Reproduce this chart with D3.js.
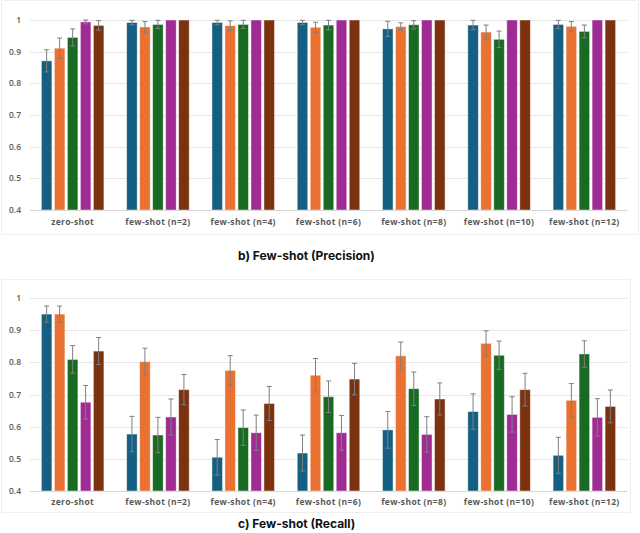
<!DOCTYPE html>
<html>
<head>
<meta charset="utf-8">
<script src="https://cdn.jsdelivr.net/npm/d3@7"></script>
<style>
  body { margin: 0; background: #fff; }
  svg { display: block; }
</style>
</head>
<body>
<svg id="chart"></svg>
<script>
// categories (x groups)
const categories = ["zero-shot", "few-shot (n=2)", "few-shot (n=4)", "few-shot (n=6)",
  "few-shot (n=8)", "few-shot (n=10)", "few-shot (n=12)"];
const seriesNames = ["s1", "s2", "s3", "s4", "s5"];
const seriesColors = ["#156082", "#e97132", "#196b24", "#a02b93", "#7a320f"];
const yTicks = [0.4, 0.5, 0.6, 0.7, 0.8, 0.9, 1];

// precision: one array per series, one value per category
const precS1 = [0.871, 0.992, 0.992, 0.992, 0.972, 0.984, 0.986];
const precS2 = [0.911, 0.978, 0.982, 0.977, 0.979, 0.962, 0.980];
const precS3 = [0.945, 0.986, 0.986, 0.984, 0.985, 0.939, 0.964];
const precS4 = [0.994, 1, 1, 1, 1, 1, 1];
const precS5 = [0.983, 1, 1, 1, 1, 1, 1];
const precErrS1 = [0.035, 0.007, 0.007, 0.007, 0.024, 0.015, 0.013];
const precErrS2 = [0.032, 0.017, 0.015, 0.016, 0.012, 0.022, 0.015];
const precErrS3 = [0.027, 0.013, 0.013, 0.015, 0.013, 0.026, 0.020];
const precErrS4 = [0.006, 0, 0, 0, 0, 0, 0];
const precErrS5 = [0.015, 0, 0, 0, 0, 0, 0];

// recall
const recS1 = [0.950, 0.577, 0.505, 0.518, 0.590, 0.647, 0.511];
const recS2 = [0.950, 0.802, 0.775, 0.760, 0.820, 0.859, 0.682];
const recS3 = [0.809, 0.574, 0.597, 0.693, 0.718, 0.822, 0.826];
const recS4 = [0.676, 0.630, 0.581, 0.581, 0.576, 0.638, 0.629];
const recS5 = [0.835, 0.715, 0.672, 0.748, 0.686, 0.715, 0.663];
const recErrS1 = [0.025, 0.055, 0.055, 0.056, 0.057, 0.055, 0.056];
const recErrS2 = [0.025, 0.042, 0.046, 0.052, 0.043, 0.039, 0.052];
const recErrS3 = [0.043, 0.055, 0.055, 0.049, 0.052, 0.044, 0.041];
const recErrS4 = [0.052, 0.056, 0.055, 0.054, 0.055, 0.055, 0.058];
const recErrS5 = [0.042, 0.047, 0.053, 0.049, 0.050, 0.051, 0.051];

const width = 640, height = 533;
const svg = d3.select("#chart").attr("width", width).attr("height", height);

function drawPanel(opts) {
  const { box, top, bottom, labelY, caption, captionY, values, errors } = opts;

  // faint panel frame
  svg.append("rect")
    .attr("x", box[0] + 0.5).attr("y", box[1] + 0.5)
    .attr("width", box[2] - box[0]).attr("height", box[3] - box[1])
    .attr("fill", "none").attr("stroke", "#efefef");

  const y = d3.scaleLinear().domain([0.4, 1]).range([bottom, top]);
  const x0 = d3.scaleBand().domain(categories).range([30, 627]);
  const x1 = d3.scaleBand().domain(seriesNames).range([0, 65])
    .paddingInner(0.19).paddingOuter(0.095);

  const g = svg.append("g");

  // gridlines
  g.selectAll(".grid").data(yTicks).enter().append("line")
    .attr("x1", 30).attr("x2", 627)
    .attr("y1", d => Math.round(y(d)) + 0.5).attr("y2", d => Math.round(y(d)) + 0.5)
    .attr("stroke", d => d === 0.4 ? "#d4d4d4" : "#e6e6e6").attr("stroke-width", 1);

  // y tick labels
  g.selectAll(".ytick").data(yTicks).enter().append("text")
    .attr("x", 21).attr("y", d => y(d) + 3)
    .attr("text-anchor", "end")
    .attr("fill", "#595959")
    .style("font", "600 8.5px 'Open Sans', sans-serif")
    .text(d => d === 1 ? "1" : d3.format(".1f")(d));

  // bars
  const groups = g.selectAll(".cat").data(categories).enter().append("g")
    .attr("transform", c => `translate(${x0(c) + (x0.bandwidth() - 65) / 2},0)`);

  seriesNames.forEach((s, si) => {
    groups.append("rect")
      .attr("x", x1(s))
      .attr("y", (c, ci) => y(values[si][ci]))
      .attr("width", x1.bandwidth())
      .attr("height", (c, ci) => y(0.4) - y(values[si][ci]))
      .attr("fill", seriesColors[si])
      .attr("stroke", "rgba(255,255,255,0.55)")
      .attr("stroke-width", 0.8);
  });

  // error bars
  seriesNames.forEach((s, si) => {
    groups.each(function (c, ci) {
      const e = errors[si][ci];
      if (!e) return;
      const v = values[si][ci];
      const cx = x1(s) + x1.bandwidth() / 2;
      const hi = Math.min(v + e, 1), lo = v - e;
      const eg = d3.select(this).append("g")
        .attr("stroke", "#7f7f7f").attr("stroke-width", 1);
      eg.append("line").attr("x1", cx).attr("x2", cx).attr("y1", y(hi)).attr("y2", y(lo));
      eg.append("line").attr("x1", cx - 2.5).attr("x2", cx + 2.5).attr("y1", y(hi)).attr("y2", y(hi));
      eg.append("line").attr("x1", cx - 2.5).attr("x2", cx + 2.5).attr("y1", y(lo)).attr("y2", y(lo));
    });
  });

  // category labels
  g.selectAll(".xlab").data(categories).enter().append("text")
    .attr("x", c => x0(c) + x0.bandwidth() / 2)
    .attr("y", labelY)
    .attr("text-anchor", "middle")
    .attr("fill", "#595959")
    .style("font", "bold 8.5px 'Open Sans', sans-serif")
    .style("letter-spacing", "0.35px")
    .text(c => c);

  // caption
  svg.append("text")
    .attr("x", 238).attr("y", captionY)
    .attr("fill", "#111")
    .style("font", "bold 12px Inter, sans-serif")
    .text(caption);
}

drawPanel({
  box: [1, 0, 638, 234], top: 20, bottom: 210, labelY: 225,
  caption: "b) Few-shot (Precision)", captionY: 260,
  values: [precS1, precS2, precS3, precS4, precS5],
  errors: [precErrS1, precErrS2, precErrS3, precErrS4, precErrS5]
});

drawPanel({
  box: [1, 279, 630, 512], top: 298, bottom: 491, labelY: 505,
  caption: "c) Few-shot (Recall)", captionY: 528,
  values: [recS1, recS2, recS3, recS4, recS5],
  errors: [recErrS1, recErrS2, recErrS3, recErrS4, recErrS5]
});
</script>
</body>
</html>
